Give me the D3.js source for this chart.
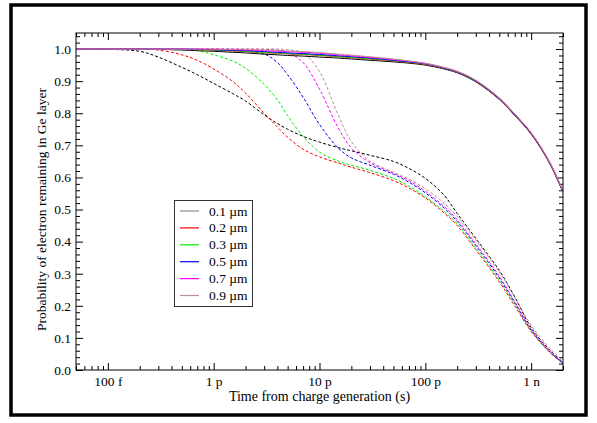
<!DOCTYPE html>
<html>
<head>
<meta charset="utf-8">
<script src="https://cdn.jsdelivr.net/npm/d3@7"></script>
<style>
  body { margin: 0; background: #fff; }
  text { font-family: "Liberation Serif", "Times New Roman", serif; fill: #000; }
</style>
</head>
<body>
<svg id="chart" width="597" height="423"></svg>
<script>
// time grid (s)
const times = [5e-14, 1e-13, 2e-13, 3e-13, 5e-13, 7e-13, 1e-12, 1.5e-12, 2e-12, 3e-12, 4e-12, 5e-12, 7e-12,
  1e-11, 1.5e-11, 2e-11, 3e-11, 5e-11, 7e-11, 1e-10, 1.5e-10, 2e-10, 3e-10, 5e-10, 7e-10, 1e-9, 1.5e-9, 2e-9];

const sizes = ['0.1 µm', '0.2 µm', '0.3 µm', '0.5 µm', '0.7 µm', '0.9 µm'];

// solid curves
const solid01 = [1, 1, 1, 0.999, 0.997, 0.995, 0.993, 0.99, 0.988, 0.984, 0.982, 0.98, 0.978,
  0.975, 0.972, 0.969, 0.965, 0.96, 0.956, 0.95, 0.938, 0.926, 0.898, 0.843, 0.793, 0.735, 0.643, 0.553];
const solid02 = [1, 1, 1, 1, 0.999, 0.998, 0.996, 0.994, 0.992, 0.988, 0.987, 0.985, 0.983,
  0.98, 0.976, 0.973, 0.969, 0.963, 0.958, 0.952, 0.94, 0.927, 0.899, 0.844, 0.794, 0.736, 0.644, 0.554];
const solid03 = [1, 1, 1, 1, 0.999, 0.998, 0.997, 0.995, 0.993, 0.989, 0.988, 0.986, 0.984,
  0.981, 0.977, 0.974, 0.97, 0.964, 0.959, 0.953, 0.94, 0.928, 0.9, 0.845, 0.795, 0.737, 0.645, 0.555];
const solid05 = [1, 1, 1, 1, 1, 0.999, 0.998, 0.996, 0.995, 0.992, 0.99, 0.988, 0.986,
  0.983, 0.979, 0.976, 0.972, 0.965, 0.96, 0.954, 0.941, 0.929, 0.901, 0.846, 0.796, 0.738, 0.646, 0.556];
const solid07 = [1, 1, 1, 1, 1, 1, 0.999, 0.998, 0.997, 0.995, 0.993, 0.992, 0.99,
  0.987, 0.982, 0.979, 0.974, 0.967, 0.962, 0.955, 0.942, 0.93, 0.902, 0.847, 0.797, 0.739, 0.647, 0.557];
const solid09 = [1, 1, 1, 1, 1, 1, 1, 0.999, 0.999, 0.997, 0.996, 0.994, 0.992,
  0.989, 0.984, 0.981, 0.976, 0.969, 0.963, 0.956, 0.943, 0.931, 0.903, 0.848, 0.798, 0.74, 0.648, 0.558];

// dashed curves
const dashed01 = [1, 0.999, 0.993, 0.975, 0.943, 0.92, 0.893, 0.862, 0.838, 0.795, 0.768, 0.75, 0.728,
  0.71, 0.693, 0.683, 0.669, 0.65, 0.628, 0.597, 0.545, 0.488, 0.41, 0.31, 0.228, 0.132, 0.062, 0.024];
const dashed02 = [1, 1, 1, 0.997, 0.982, 0.965, 0.938, 0.9, 0.863, 0.8, 0.757, 0.725, 0.688,
  0.664, 0.645, 0.632, 0.615, 0.59, 0.567, 0.536, 0.49, 0.45, 0.375, 0.275, 0.2, 0.12, 0.055, 0.02];
const dashed03 = [1, 1, 1, 1, 0.999, 0.995, 0.982, 0.963, 0.94, 0.89, 0.842, 0.792, 0.728,
  0.679, 0.651, 0.638, 0.622, 0.597, 0.573, 0.54, 0.495, 0.455, 0.38, 0.28, 0.205, 0.122, 0.056, 0.02];
const dashed05 = [1, 1, 1, 1, 1, 1, 1, 0.999, 0.997, 0.985, 0.958, 0.92, 0.85,
  0.765, 0.692, 0.661, 0.638, 0.61, 0.585, 0.552, 0.505, 0.463, 0.388, 0.287, 0.21, 0.125, 0.057, 0.021];
const dashed07 = [1, 1, 1, 1, 1, 1, 1, 1, 1, 0.999, 0.997, 0.99, 0.958,
  0.875, 0.755, 0.692, 0.646, 0.613, 0.59, 0.557, 0.51, 0.468, 0.393, 0.292, 0.213, 0.128, 0.058, 0.022];
const dashed09 = [1, 1, 1, 1, 1, 1, 1, 1, 1, 1, 1, 0.998, 0.988,
  0.93, 0.795, 0.712, 0.651, 0.616, 0.595, 0.565, 0.52, 0.478, 0.405, 0.305, 0.226, 0.14, 0.068, 0.03];

const majorTicks = [1e-13, 1e-12, 1e-11, 1e-10, 1e-9];
const majorLabels = ['100 f', '1 p', '10 p', '100 p', '1 n'];

const colors = ['#000000', '#ff0000', '#00ee00', '#0000ff', '#ff00ff', '#bc8f8f'];
const legendColors = ['#8c8c8c', '#ff0000', '#00ee00', '#0000ff', '#ff00ff', '#bc8f8f'];

const solids = [solid01, solid02, solid03, solid05, solid07, solid09];
const dashes = [dashed01, dashed02, dashed03, dashed05, dashed07, dashed09];

const svg = d3.select('#chart');

// outer frame
svg.append('rect')
  .attr('x', 11).attr('y', 5)
  .attr('width', 575).attr('height', 410)
  .attr('fill', 'none')
  .attr('stroke', '#000')
  .attr('stroke-width', 3.5);

const pL = 76, pR = 563, pT = 33, pB = 370;

const x = d3.scaleLog().domain([5e-14, 2e-9]).range([pL, pR]);
const y = d3.scaleLinear().domain([0, 1.05]).range([pB, pT]);

const minorX = x.ticks().filter(t => Math.abs(Math.log10(t) - Math.round(Math.log10(t))) > 1e-6);
const majorY = d3.range(0, 11).map(i => i / 10);
const minorY = d3.range(0, 53).map(i => i / 50).filter(v => v <= 1.05 && Math.round(v * 50) % 5 !== 0);

function styleAxis(g) {
  g.select('.domain').remove();
  g.selectAll('line').attr('stroke', '#000');
  g.selectAll('text').style('font-size', '13.5px').style('font-family', '"Liberation Serif", serif');
}

// bottom
svg.append('g').attr('transform', `translate(0,${pB})`)
  .call(d3.axisBottom(x).tickValues(majorTicks).tickSize(-7).tickPadding(6)
    .tickFormat((d, i) => majorLabels[i]))
  .call(styleAxis);
svg.append('g').attr('transform', `translate(0,${pB})`)
  .call(d3.axisBottom(x).tickValues(minorX).tickSize(-4).tickFormat(''))
  .call(styleAxis);
// top
svg.append('g').attr('transform', `translate(0,${pT})`)
  .call(d3.axisTop(x).tickValues(majorTicks).tickSize(-7).tickFormat(''))
  .call(styleAxis);
svg.append('g').attr('transform', `translate(0,${pT})`)
  .call(d3.axisTop(x).tickValues(minorX).tickSize(-4).tickFormat(''))
  .call(styleAxis);
// left
svg.append('g').attr('transform', `translate(${pL},0)`)
  .call(d3.axisLeft(y).tickValues(majorY).tickSize(-7).tickPadding(5).tickFormat(d3.format('.1f')))
  .call(styleAxis);
svg.append('g').attr('transform', `translate(${pL},0)`)
  .call(d3.axisLeft(y).tickValues(minorY).tickSize(-4).tickFormat(''))
  .call(styleAxis);
// right
svg.append('g').attr('transform', `translate(${pR},0)`)
  .call(d3.axisRight(y).tickValues(majorY).tickSize(-7).tickFormat(''))
  .call(styleAxis);
svg.append('g').attr('transform', `translate(${pR},0)`)
  .call(d3.axisRight(y).tickValues(minorY).tickSize(-4).tickFormat(''))
  .call(styleAxis);

// curves
svg.append('clipPath').attr('id', 'clip')
  .append('rect').attr('x', pL).attr('y', pT).attr('width', pR - pL).attr('height', pB - pT);

const line = d3.line()
  .x((d, i) => x(times[i]))
  .y(d => y(d))
  .curve(d3.curveCatmullRom.alpha(0.5));

const curves = svg.append('g').attr('clip-path', 'url(#clip)');

dashes.forEach((vals, k) => {
  curves.append('path')
    .attr('d', line(vals))
    .attr('fill', 'none')
    .attr('stroke', colors[k])
    .attr('stroke-width', 1)
    .attr('stroke-dasharray', '3,2');
});
solids.forEach((vals, k) => {
  curves.append('path')
    .attr('d', line(vals))
    .attr('fill', 'none')
    .attr('stroke', colors[k])
    .attr('stroke-width', 1);
});

// plot box
svg.append('rect')
  .attr('x', pL).attr('y', pT)
  .attr('width', pR - pL).attr('height', pB - pT)
  .attr('fill', 'none').attr('stroke', '#000').attr('stroke-width', 1);

// axis titles
svg.append('text')
  .attr('x', (pL + pR) / 2).attr('y', 401)
  .attr('text-anchor', 'middle')
  .style('font-size', '14px')
  .text('Time from charge generation (s)');

svg.append('text')
  .attr('transform', `translate(46,${(pT + pB) / 2 + 8}) rotate(-90)`)
  .attr('text-anchor', 'middle')
  .style('font-size', '13.5px')
  .text('Probability of electron remaining in Ge layer');

// legend
const lg = svg.append('g').attr('transform', 'translate(174,200)');
lg.append('rect')
  .attr('x', 0.5).attr('y', 0.5).attr('width', 78).attr('height', 106)
  .attr('fill', '#fff').attr('stroke', '#333').attr('stroke-width', 1);
sizes.forEach((s, i) => {
  const yy = 11 + i * 16.9;
  lg.append('line')
    .attr('x1', 6).attr('x2', 25).attr('y1', yy).attr('y2', yy)
    .attr('stroke', legendColors[i]).attr('stroke-width', 1.2);
  lg.append('text')
    .attr('x', 35).attr('y', yy + 4.5)
    .style('font-size', '13.5px')
    .text(s);
});
</script>
</body>
</html>
